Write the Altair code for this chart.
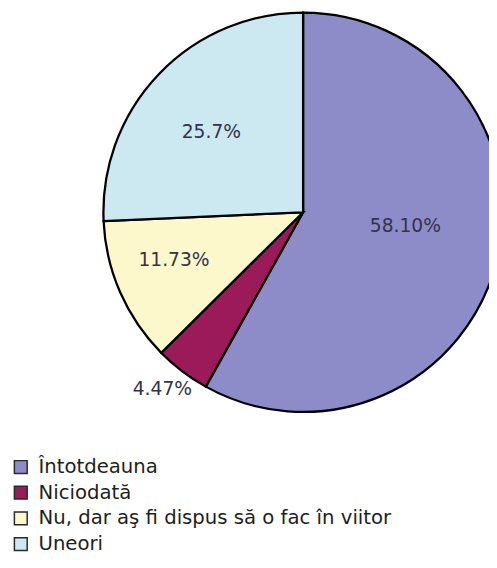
import altair as alt
import pandas as pd

categories = ["Întotdeauna", "Niciodată", "Nu, dar aş fi dispus să o fac în viitor", "Uneori"]
values = [58.10, 4.47, 11.73, 25.7]
labels = ["58.10%", "4.47%", "11.73%", "25.7%"]
colors = ["#8E8CC8", "#9B1B5A", "#FDF8CB", "#CCE8F0"]
order = [0, 1, 2, 3]

df = pd.DataFrame({"cat": categories, "value": values, "label": labels, "order": order})

CX, CY, R = 300, 203, 203

arc = alt.Chart(df).mark_arc(stroke="black", strokeWidth=2.3).encode(
    theta=alt.Theta("value:Q", stack=True),
    order=alt.Order("order:Q"),
    color=alt.Color(
        "cat:N",
        sort=categories,
        scale=alt.Scale(domain=categories, range=colors),
        legend=alt.Legend(
            orient="none",
            legendX=3,
            legendY=452,
            title=None,
            symbolType="square",
            symbolSize=169,
            symbolStrokeColor="#2a2a2a",
            symbolStrokeWidth=1.5,
            labelFont="DejaVu Sans",
            labelFontSize=20,
            labelColor="#1e1e1e",
            labelOffset=8,
            rowPadding=6.1,
            labelLimit=480,
        ),
    ),
    x=alt.value(CX),
    y=alt.value(CY),
    radius=alt.value(R),
)

text = (
    alt.Chart(df)
    .transform_window(cum="sum(value)", sort=[alt.SortField("order")], frame=[None, 0])
    .transform_calculate(
        mid="datum.cum - datum.value / 2 + (datum.value > 50 ? -1.85 : datum.value > 20 ? -0.7 : datum.value > 10 ? 0.9 : 0.35)",
        r="datum.value > 50 ? 105 : datum.value > 20 ? 124 : datum.value > 10 ? 140 : 230",
    )
    .mark_text(font="DejaVu Sans", fontSize=19, color="#33334a")
    .encode(
        theta=alt.Theta("mid:Q", stack=None),
        radius=alt.Radius("r:Q", scale=None),
        text="label:N",
        x=alt.value(CX),
        y=alt.value(CY),
    )
)

chart = (
    alt.layer(arc, text)
    .properties(width=489, height=560, autosize=alt.AutoSizeParams(type="none"), padding=0)
    .configure_view(stroke=None)
)

chart.save("out.html", embed_options={"renderer": "svg", "actions": False})
